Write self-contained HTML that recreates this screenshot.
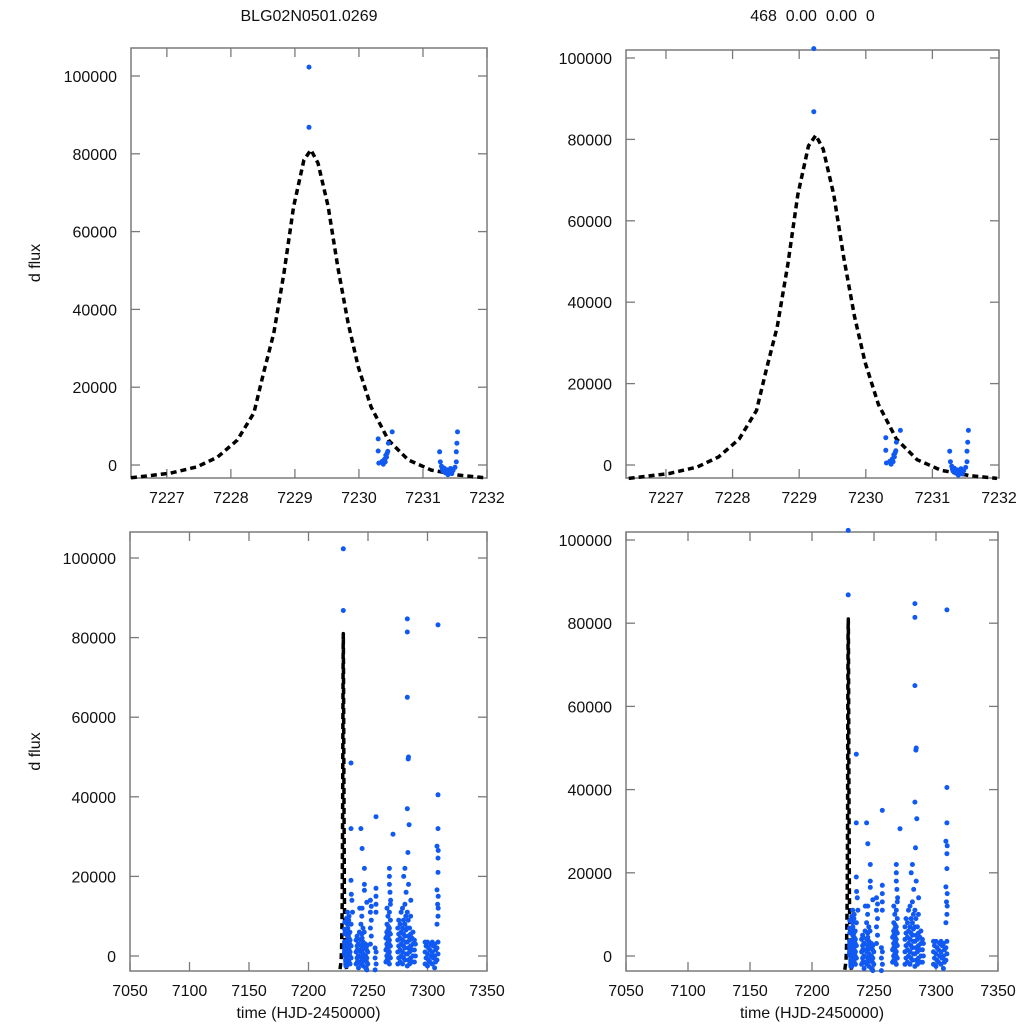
<!DOCTYPE html>
<html><head><meta charset="utf-8"><style>
html,body{margin:0;padding:0;background:#fff;width:1024px;height:1024px;overflow:hidden}
text{font-family:"Liberation Sans",Arial,sans-serif;fill:#111}
</style></head><body>
<svg id="chart" width="1024" height="1024" xmlns="http://www.w3.org/2000/svg"></svg>
<script>
// ---- data ----
const modelTimes = [7226.44,7227.05,7227.47,7227.79,7228.1,7228.36,7228.51,7228.67,7228.83,7228.98,7229.14,7229.25,7229.36,7229.52,7229.67,7229.83,7229.99,7230.19,7230.46,7230.77,7231.13,7231.56,7231.97];
const modelFlux = [-3300,-2100,-500,2000,6400,13400,23600,33900,49400,66400,78400,81000,77600,66400,50900,36500,25200,14900,6400,1300,-1300,-2600,-3300];
const earlyPoints = [[7229.22,102300],[7229.22,86800],
[7230.30,6700],[7230.30,3600],[7230.31,500],[7230.36,900],[7230.38,200],[7230.40,1500],[7230.42,2500],[7230.44,3000],[7230.46,5600],[7230.52,8500],[7230.39,1200],[7230.43,2000],[7230.41,800],[7230.45,3500],
[7231.26,3400],[7231.27,800],[7231.29,-300],[7231.31,-1500],[7231.33,-800],[7231.35,-2000],[7231.37,-1200],[7231.39,-2500],[7231.41,-1800],[7231.43,-900],[7231.45,-2200],[7231.47,-1400],[7231.5,-600],[7231.52,800],[7231.52,3400],[7231.53,5600],[7231.54,8500],[7231.3,-1000],[7231.36,-1600]];
const latePoints = [
[7235.7,48500],[7235.7,32000],[7235.7,19000],[7236,15500],[7236.5,14000],[7237,11000],
[7244,32000],[7245,27000],[7247,22000],[7247,18000],[7247,16500],[7243,12000],[7249,13500],
[7256.7,35000],[7256.7,17000],[7256.7,15000],[7256.7,13000],[7256.7,11000],
[7271,30600],[7268,22000],[7268,20000],[7268,18000],[7268.5,16000],[7269,14000],
[7283,84700],[7283,81400],[7283,65000],[7284,50000],[7283.8,49500],[7283,37000],[7284.5,33000],[7283.5,26000],[7281,22000],[7280,20000],[7284,18000],[7282,16000],[7286,14000],
[7308.8,83200],[7308.8,40500],[7308.8,32000],[7308,27600],[7309,26500],[7308.8,24600],[7308.8,21000],[7308,16600],[7309,15000],[7308.5,13000],[7309,12000]];
// dense nightly columns: time and the flux values observed at it
const columnTimes = [7232,7233,7234,7235,7240,7241,7242,7244,7245,7246,7248,7249,7252,7256,7265,7266,7267,7268,7275,7277,7279,7281,7283,7285,7287,7289,7298,7300,7302,7304,7306,7308];
const columnValues = [
[-2500,-1000,500,2000,3500,5000,6500,8000,9500,11000],
[-2000,-500,1000,2500,4000,5500,7000,9000],
[-1500,0,1500,3000,4500,6000,10000],
[-2000,-500,1000,2500,4000,8000],
[-2000,-500,1000,2500,4000,5000],
[-1500,0,1500,3000,4500],
[-3000,-1500,0,1500,3000,6000],
[-2000,-500,1000,2500,4000,5500,8000,10000],
[-1500,0,1500,3000,4500,7000,12000],
[-2500,-1000,500,2000,3500,6000],
[-3000,-1500,0,1500,3000],
[-3500,-2000,-500,1000,2500],
[3000,5000,7000,9000,11000,12500,14000],
[-3500,-2000,-500,1000,2000],
[-1500,0,1500,3000,4500,6000],
[-1000,500,2000,3500,5000,6500,8000,10000,12000],
[-1500,0,1500,3000,4500,6000,7500],
[-2000,-500,1000,2500,4000,5500,7000,9000,11000,13000],
[-2000,-500,1000,2500,4000,5500,7000,9000],
[-1500,0,1500,3000,4500,6000,8000,11000],
[-2000,-500,1000,2500,4000,5500,7000,9000,12000],
[-1000,500,2000,3500,5000,6500,8000,10000,13000],
[-2500,-1000,500,2000,3500,5000,7000,9000,11000],
[-2000,-500,1000,2500,4000,5500,7000,10000],
[-1500,0,1500,3000,4500,6000],
[-1500,0,1500,3000,4000],
[-2000,-500,1000,2500,3500],
[-2500,-1000,500,2000,3500],
[-1500,0,1500,3000],
[-2000,-500,1000,2500,3500],
[-3000,-1500,0,1500,3000],
[-1000,500,2000,3500,8000,10000]];
const yTicks = [0,20000,40000,60000,80000,100000];
const xTicksTop = [7227,7228,7229,7230,7231,7232];
const xTicksBottom = [7050,7100,7150,7200,7250,7300,7350];

const svg = document.getElementById('chart');
const NS = 'http://www.w3.org/2000/svg';
function mk(tag, attrs, parent){const e=document.createElementNS(NS,tag);for(const k in attrs)e.setAttribute(k,attrs[k]);(parent||svg).appendChild(e);return e;}

function panel(p){
  const g = mk('g',{});
  
  
  const sx = t => p.x0 + (t - p.t0)/(p.t1 - p.t0)*(p.x1 - p.x0);
  const sy = v => p.yz - v*p.k;
  const fr = mk('rect',{x:p.x0,y:p.y0,width:p.x1-p.x0,height:p.y1-p.y0,fill:'none',stroke:'#7a7a7a','stroke-width':1.5},g);
  
  
  yTicks.forEach(v=>{
    const y=sy(v);
    mk('line',{x1:p.x0,x2:p.x0+9,y1:y,y2:y,stroke:'#7a7a7a','stroke-width':1.3},g);
    mk('line',{x1:p.x1,x2:p.x1-9,y1:y,y2:y,stroke:'#7a7a7a','stroke-width':1.3},g);
    const tx=mk('text',{x:p.x0-14,y:y+6,'text-anchor':'end','font-size':16},g);
    tx.textContent=v;
    
    
  });
  p.xt.forEach(t=>{
    const x=sx(t);
    mk('line',{x1:x,x2:x,y1:p.y1,y2:p.y1-9,stroke:'#7a7a7a','stroke-width':1.3},g);
    mk('line',{x1:x,x2:x,y1:p.y0,y2:p.y0+9,stroke:'#7a7a7a','stroke-width':1.3},g);
    const tx=mk('text',{x:x,y:p.y1+25,'text-anchor':'middle','font-size':16},g);
    tx.textContent=t;
    
    
  });
  const pts = modelTimes.map((t,i)=>sx(t).toFixed(1)+','+sy(modelFlux[i]).toFixed(1)).join(' ');
  const pl = mk('polyline',{points:pts,fill:'none',stroke:'#000','stroke-width':3.5,'stroke-dasharray':'6,4','stroke-linejoin':'round'},g);
  
  
  p.pts.forEach(d=>{
    const c=mk('circle',{cx:sx(d[0]).toFixed(1),cy:sy(d[1]).toFixed(1),r:2.5,fill:'#1059f2'},g);
    
    
  });
  if(p.ylabel){
    const yl=mk('text',{x:0,y:0,'text-anchor':'middle','font-size':16,transform:`translate(40,${(p.y0+p.y1)/2}) rotate(-90)`},g);
    yl.textContent='d flux';
    
    
  }
  if(p.xlabel){
    const xl=mk('text',{x:(p.x0+p.x1)/2,y:1018,'text-anchor':'middle','font-size':16},g);
    xl.textContent='time (HJD-2450000)';
    
    
  }
  if(p.title){
    const tl=mk('text',{x:(p.x0+p.x1)/2,y:21,'text-anchor':'middle','font-size':16,style:'white-space:pre'},g);
    tl.textContent=p.title;
    
    
  }
}
const columnPts = [];
columnTimes.forEach((t,i)=>columnValues[i].forEach((v,j)=>{columnPts.push([t+(j%2)*0.8,v]);}));
const allPts = earlyPoints.concat(latePoints, columnPts);
panel({name:'top-left-panel',x0:131,x1:487,y0:48,y1:478,t0:7226.44,t1:7232,yz:465,k:0.00389,xt:xTicksTop,pts:earlyPoints,ylabel:true,title:'BLG02N0501.0269'});
panel({name:'top-right-panel',x0:626,x1:999,y0:50,y1:478,t0:7226.4,t1:7232,yz:465,k:0.00407,xt:xTicksTop,pts:earlyPoints,title:'468  0.00  0.00  0'});
panel({name:'bottom-left-panel',x0:130,x1:487,y0:532,y1:971,t0:7050,t1:7350,yz:956,k:0.00398,xt:xTicksBottom,pts:allPts,ylabel:true,xlabel:true});
panel({name:'bottom-right-panel',x0:626,x1:998,y0:532,y1:971,t0:7050,t1:7350,yz:956,k:0.00416,xt:xTicksBottom,pts:allPts,xlabel:true});
</script>
</body></html>
